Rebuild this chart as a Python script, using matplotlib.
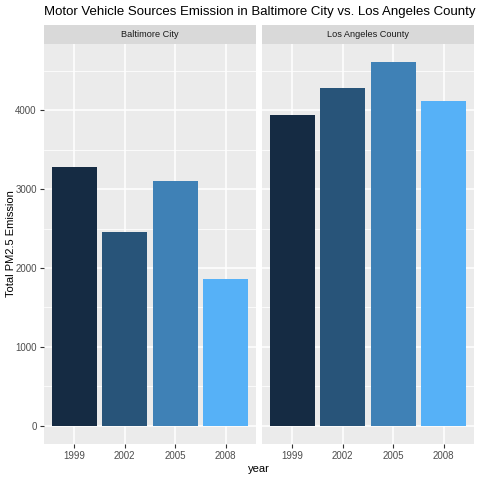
#Motor vehicle PM2.5 emissions, Baltimore City vs Los Angeles County
import numpy as np
import matplotlib
matplotlib.use("Agg")
import matplotlib.pyplot as plt

years = ["1999", "2002", "2005", "2008"]
cities = ["Baltimore City", "Los Angeles County"]
baltimore = [3275, 2452, 3101, 1861]
los_angeles = [3937, 4278, 4608, 4114]
year_colors = ["#152B43", "#285479", "#3F81B6", "#56B1F7"]

W, H = 480, 480
fig = plt.figure(figsize=(4.8, 4.8), dpi=100)
plt.rcParams['font.family'] = ['Liberation Sans', 'DejaVu Sans']


def px_axes(x0, y0, x1, y1):
    return fig.add_axes([x0 / W, 1 - y1 / H, (x1 - x0) / W, (y1 - y0) / H])


ymax = max(max(baltimore), max(los_angeles))
ylim = (-0.05 * ymax, 1.05 * ymax)

panels = [(44, 256), (262, 474)]
for i, (city, vals) in enumerate(zip(cities, [baltimore, los_angeles])):
    x0, x1 = panels[i]
    ax = px_axes(x0, 44, x1, 444)
    ax.set_facecolor("#EBEBEB")
    xs = np.arange(1, len(years) + 1)
    ax.bar(xs, vals, width=0.9, color=year_colors, zorder=3)
    ax.set_xlim(0.4, 4.6)
    ax.set_ylim(*ylim)
    ax.set_yticks([0, 1000, 2000, 3000, 4000])
    ax.set_yticks([500, 1500, 2500, 3500, 4500], minor=True)
    ax.set_xticks(xs)
    ax.set_xticklabels(years)
    ax.grid(which="major", color="white", linewidth=1.1, zorder=1)
    ax.grid(which="minor", axis="y", color="white", linewidth=0.55, zorder=1)
    for s in ax.spines.values():
        s.set_visible(False)
    ax.tick_params(which="major", length=2.7, width=0.8, color="#333333",
                   labelsize=7, labelcolor="#4D4D4D", pad=2.5)
    ax.tick_params(which="minor", length=0)
    if i == 0:
        ax.set_ylabel("Total PM2.5 Emission", fontsize=8, color="black")
        ax.yaxis.set_label_coords(-0.13, 0.5)
    else:
        ax.tick_params(axis="y", which="both", left=False, labelleft=False)

    strip = px_axes(x0, 25, x1, 44)
    strip.set_facecolor("#D9D9D9")
    strip.set_xticks([])
    strip.set_yticks([])
    for s in strip.spines.values():
        s.set_visible(False)
    strip.text(0.5, 0.5, city, ha="center", va="center", fontsize=6.6,
               color="#1A1A1A", transform=strip.transAxes)

fig.text(259 / W, 1 - 469 / H, "year", ha="center", va="center", fontsize=8)
# title runs past the right edge in the original too
fig.text(44 / W, 1 - 12 / H,
         "Motor Vehicle Sources Emission in Baltimore City vs. Los Angeles County in the US",
         ha="left", va="center", fontsize=9.5)

fig.savefig("out.png", dpi=100, facecolor="white")
